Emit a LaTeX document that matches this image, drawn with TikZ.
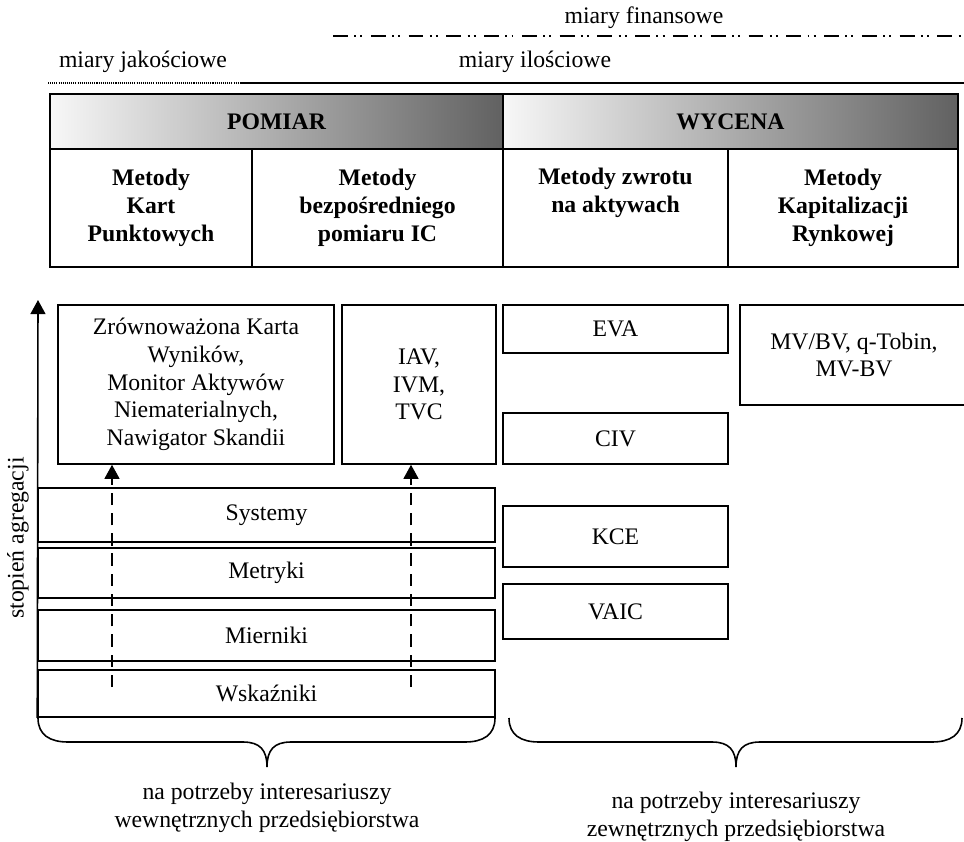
\documentclass[tikz,border=0pt]{standalone}
\usepackage{fontspec}
\setmainfont{Liberation Serif}
\usetikzlibrary{arrows.meta}

\begin{document}
\begin{tikzpicture}[x=0.02cm, y=-0.02cm,
    every node/.style={font=\fontsize{13.5}{15.8}\selectfont, align=center, inner sep=2pt},
    headbox/.style={draw, line width=1.1pt, left color=black!3, right color=black!62,
        minimum height=1.1cm, font=\fontsize{13.5}{15.8}\selectfont\bfseries},
    methbox/.style={draw, line width=1.1pt, minimum height=2.36cm,
        font=\fontsize{13.5}{15.8}\selectfont\bfseries},
    box/.style={draw, line width=0.9pt},
    uptip/.style={-{Triangle[width=8.5pt,length=8pt]}, line width=0.9pt}]
    \useasboundingbox (0,0) rectangle (964,842);

    % Rodzaje miar
    \node (finansowe) at (644,18) {miary finansowe};
    \draw[line width=1pt, dash pattern=on 8.5pt off 3.6pt on 1.1pt off 2.4pt on 1.1pt off 4.8pt]
        (333,36) -- (966,36);
    \node (jakosc) at (143,62) {miary jakościowe};
    \node (ilosc) at (535,62) {miary ilościowe};
    \draw[line width=0.6pt, dash pattern=on 0.6pt off 0.6pt] (48,83) -- (241,83);
    \draw[line width=1.1pt] (241,83) -- (966,83);

    % Naglowki
    \node[headbox, minimum width=9.06cm] (pomiar) at (276.5,121.5) {POMIAR};
    \node[headbox, minimum width=9.1cm] (wycena) at (730.5,121.5) {WYCENA};

    % Grupy metod
    \node[methbox, minimum width=4.04cm] (kart) at (151,208) {Metody\\Kart\\Punktowych};
    \node[methbox, minimum width=5.02cm] (bezp) at (377.5,208) {Metody\\bezpośredniego\\pomiaru IC};
    \node[methbox, minimum width=4.5cm] (zwrot) at (615.5,208) {Metody zwrotu\\na aktywach\\\strut};
    \node[methbox, minimum width=4.6cm] (kapit) at (843,208) {Metody\\Kapitalizacji\\Rynkowej};

    % Metody pomiaru
    \node[box, minimum width=5.52cm, minimum height=3.18cm] (bsc) at (196,384.5)
        {Zrównoważona Karta\\Wyników,\\Monitor Aktywów\\Niematerialnych,\\Nawigator Skandii};
    \node[box, minimum width=3.08cm, minimum height=3.18cm] (iav) at (419,384.5) {IAV,\\IVM,\\TVC};

    % Poziomy agregacji
    \node[box, minimum width=9.14cm, minimum height=1.08cm] (systemy) at (266.5,515) {Systemy};
    \node[box, minimum width=9.14cm, minimum height=1.0cm] (metryki) at (266.5,573) {Metryki};
    \node[box, minimum width=9.14cm, minimum height=1.02cm] (mierniki) at (266.5,635.5) {Mierniki};
    \node[box, minimum width=9.14cm, minimum height=0.94cm] (wskazniki) at (266.5,693.5) {Wskaźniki};

    % Metody wyceny
    \node[box, minimum width=4.5cm, minimum height=0.96cm] (eva) at (615.5,329) {EVA};
    \node[box, minimum width=4.5cm, minimum height=1.02cm] (civ) at (615.5,438.5) {CIV};
    \node[box, minimum width=4.5cm, minimum height=1.22cm] (kce) at (615.5,536.5) {KCE};
    \node[box, minimum width=4.5cm, minimum height=1.1cm] (vaic) at (615.5,611.5) {VAIC};
    \node[box, minimum width=4.56cm, minimum height=2.0cm] (mvbv) at (854,355) {MV/BV, q-Tobin,\\MV-BV};

    % Os agregacji
    \coordinate (axtop) at (38,300);
    \draw[uptip] (wskazniki.south west) -- (axtop);
    \node[rotate=90] (agreg) at (18,538) {stopień agregacji};

    % Strzalki przerywane
    \coordinate (d1) at (112,687);
    \coordinate (d2) at (411,687);
    \draw[uptip, dash pattern=on 7pt off 4.5pt] (d1) -- (d1 |- bsc.south);
    \draw[uptip, dash pattern=on 7pt off 4.5pt] (d2) -- (d2 |- iav.south);

    % Klamry
    \draw[line width=0.9pt] (38,718) .. controls (38,735) and (50,742) .. (68,742) -- (243,742)
        .. controls (260,742) and (267,750) .. (267,767)
        .. controls (267,750) and (274,742) .. (291,742) -- (465,742)
        .. controls (483,742) and (495,735) .. (495,718);
    \draw[line width=0.9pt] (509,718) .. controls (509,735) and (521,742) .. (539,742) -- (712,742)
        .. controls (729,742) and (736,750) .. (736,767)
        .. controls (736,750) and (743,742) .. (760,742) -- (932,742)
        .. controls (950,742) and (962,735) .. (962,718);
    \node (wewn) at (267,808) {na potrzeby interesariuszy\\wewnętrznych przedsiębiorstwa};
    \node (zewn) at (736,817) {na potrzeby interesariuszy\\zewnętrznych przedsiębiorstwa};
\end{tikzpicture}
\end{document}
